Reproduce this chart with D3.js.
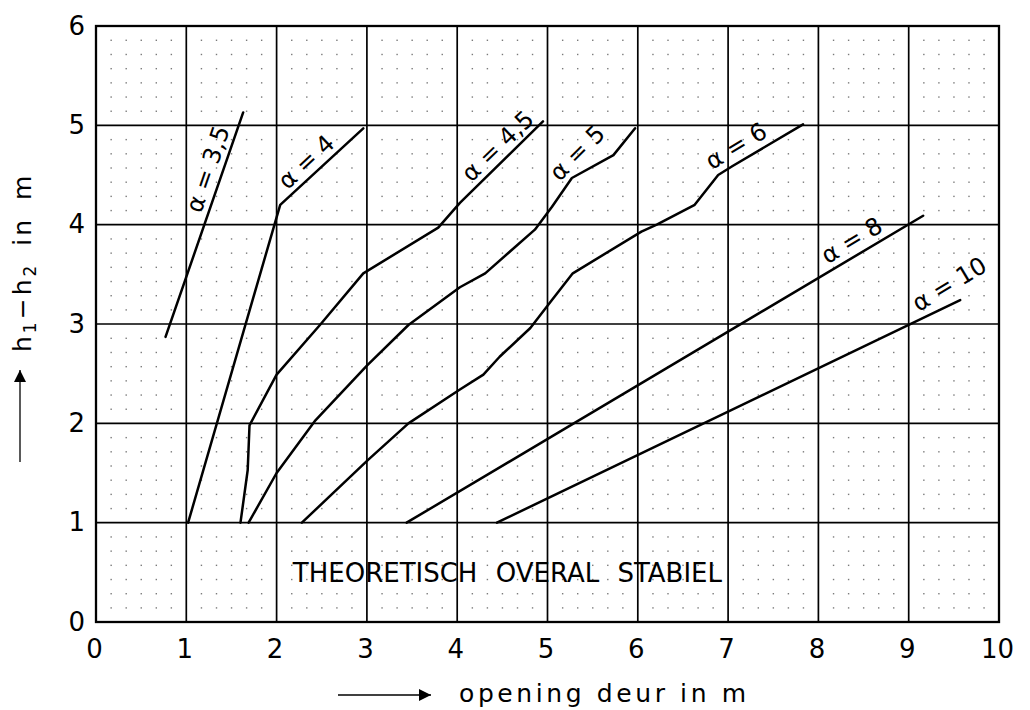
<!DOCTYPE html>
<html>
<head>
<meta charset="utf-8">
<script src="https://cdn.jsdelivr.net/npm/d3@7/dist/d3.min.js"></script>
<style>
  html, body { margin: 0; padding: 0; background: #fff; }
  svg { display: block; }
  text { font-family: "DejaVu Sans", "Liberation Sans", sans-serif; fill: #000; }
</style>
</head>
<body>
<svg id="chart" width="1030" height="710"></svg>
<script>
// Opening of the door (m) against head difference h1-h2 (m), one curve per alpha.
const xTicks = [0, 1, 2, 3, 4, 5, 6, 7, 8, 9, 10];
const yTicks = [0, 1, 2, 3, 4, 5, 6];

const alpha35 = [[0.77, 2.87], [1.63, 5.13]];
const alpha4  = [[1.02, 1.00], [2.04, 4.20], [2.96, 4.97]];
const alpha45 = [[1.60, 1.00], [1.68, 1.53], [1.70, 1.98], [2.00, 2.49], [2.48, 2.99],
                 [2.96, 3.51], [3.79, 3.97], [4.03, 4.22], [4.95, 5.04]];
const alpha5  = [[1.69, 1.00], [2.00, 1.50], [2.43, 2.03], [3.00, 2.58], [3.46, 2.99],
                 [4.03, 3.37], [4.31, 3.51], [4.86, 3.95], [5.05, 4.18], [5.27, 4.47],
                 [5.73, 4.70], [5.97, 4.97]];
const alpha6  = [[2.28, 1.00], [3.01, 1.63], [3.46, 2.00], [4.03, 2.34], [4.29, 2.49],
                 [4.47, 2.67], [4.81, 2.96], [5.03, 3.22], [5.28, 3.51], [6.04, 3.93],
                 [6.21, 4.00], [6.63, 4.20], [6.89, 4.50], [7.05, 4.59], [7.83, 5.01]];
const alpha8  = [[3.44, 1.00], [9.16, 4.09]];
const alpha10 = [[4.44, 1.00], [9.57, 3.24]];

const curveNames = ["α = 3,5", "α = 4", "α = 4,5", "α = 5", "α = 6", "α = 8", "α = 10"];
const curves = [alpha35, alpha4, alpha45, alpha5, alpha6, alpha8, alpha10];

// where each curve's name sits (data units) and how far it is turned (degrees)
const labelPlacement = [
  { x: 1.24, y: 4.56, angle: -71 },
  { x: 2.33, y: 4.63, angle: -43 },
  { x: 4.45, y: 4.79, angle: -44 },
  { x: 5.33, y: 4.72, angle: -45 },
  { x: 7.09, y: 4.79, angle: -31 },
  { x: 8.37, y: 3.84, angle: -31 },
  { x: 9.45, y: 3.40, angle: -31 }
];

const stableText = "THEORETISCH OVERAL STABIEL";
const xTitle = "opening deur in m";

const svg = d3.select("#chart");
const plotLeft = 96, plotRight = 999, plotTop = 26, plotBottom = 622;

const x = d3.scaleLinear().domain([0, 10]).range([plotLeft, plotRight]);
const y = d3.scaleLinear().domain([0, 6]).range([plotBottom, plotTop]);

// dotted background grid
const dots = [];
for (let i = 0; i <= 60; i++) {
  for (let j = 0; j <= 42; j++) {
    if (i % 6 === 0 || j % 7 === 0) continue;
    dots.push([i / 6, j / 7]);
  }
}
svg.append("g")
  .selectAll("rect")
  .data(dots)
  .join("rect")
  .attr("x", d => x(d[0]) - 0.6)
  .attr("y", d => y(d[1]) - 0.6)
  .attr("width", 1.4)
  .attr("height", 1.4)
  .attr("fill", "#7a7a7a");

// major grid
const grid = svg.append("g").attr("stroke", "#000").attr("stroke-width", 1.7);
grid.selectAll("line.v")
  .data(xTicks.slice(1, -1))
  .join("line")
  .attr("class", "v")
  .attr("x1", d => x(d)).attr("x2", d => x(d))
  .attr("y1", y(6)).attr("y2", y(0));
grid.selectAll("line.h")
  .data(yTicks.slice(1, -1))
  .join("line")
  .attr("class", "h")
  .attr("x1", x(0)).attr("x2", x(10))
  .attr("y1", d => y(d)).attr("y2", d => y(d));

svg.append("rect")
  .attr("x", x(0)).attr("y", y(6))
  .attr("width", x(10) - x(0)).attr("height", y(0) - y(6))
  .attr("fill", "none").attr("stroke", "#000").attr("stroke-width", 2.3);

// axes (labels only; the frame is the grid border)
const xAxis = svg.append("g")
  .attr("transform", `translate(0,${plotBottom})`)
  .call(d3.axisBottom(x).tickValues(xTicks).tickSize(0).tickPadding(18).tickFormat(d3.format("d")));
const yAxis = svg.append("g")
  .attr("transform", `translate(${plotLeft},0)`)
  .call(d3.axisLeft(y).tickValues(yTicks).tickSize(0).tickPadding(11).tickFormat(d3.format("d")));
[xAxis, yAxis].forEach(a => {
  a.select(".domain").remove();
  a.selectAll("text")
    .attr("font-family", "DejaVu Sans, sans-serif")
    .attr("font-size", 26)
    .attr("fill", "#000");
});
xAxis.selectAll("text").attr("dx", -2);

// alpha curves
const line = d3.line().x(d => x(d[0])).y(d => y(d[1]));
svg.append("g")
  .selectAll("path")
  .data(curves)
  .join("path")
  .attr("d", line)
  .attr("fill", "none")
  .attr("stroke", "#000")
  .attr("stroke-width", 2.5)
  .attr("stroke-linejoin", "round")
  .attr("stroke-linecap", "round");

svg.append("g")
  .selectAll("text")
  .data(curveNames)
  .join("text")
  .attr("transform", (d, i) => {
    const p = labelPlacement[i];
    return `translate(${x(p.x)},${y(p.y)}) rotate(${p.angle})`;
  })
  .attr("text-anchor", "middle")
  .attr("dominant-baseline", "central")
  .attr("font-size", 24)
  .text(d => d);

// region note
svg.append("text")
  .attr("x", x(2.18))
  .attr("y", y(0.4))
  .attr("font-size", 26)
  .attr("word-spacing", 10)
  .text(stableText);

// arrow heads
svg.append("defs").append("marker")
  .attr("id", "head")
  .attr("viewBox", "0 0 10 10")
  .attr("refX", 10).attr("refY", 5)
  .attr("markerWidth", 20).attr("markerHeight", 12)
  .attr("markerUnits", "userSpaceOnUse")
  .attr("orient", "auto")
  .append("path")
  .attr("d", "M0,0 L10,5 L0,10 Z")
  .attr("fill", "#000");

// x title
svg.append("line")
  .attr("x1", 338).attr("x2", 431)
  .attr("y1", 695).attr("y2", 695)
  .attr("stroke", "#000").attr("stroke-width", 1.3)
  .attr("marker-end", "url(#head)");
svg.append("text")
  .attr("x", 459).attr("y", 702)
  .attr("font-size", 25)
  .attr("textLength", 287)
  .attr("lengthAdjust", "spacing")
  .text(xTitle);

// y title
svg.append("line")
  .attr("x1", 20).attr("x2", 20)
  .attr("y1", 462).attr("y2", 370)
  .attr("stroke", "#000").attr("stroke-width", 1.3)
  .attr("marker-end", "url(#head)");
const yt = svg.append("text")
  .attr("transform", "translate(31,352) rotate(-90)")
  .attr("font-size", 25)
  .attr("letter-spacing", 3);
yt.append("tspan").text("h");
yt.append("tspan").attr("font-size", 17).attr("dy", 5).text("1");
yt.append("tspan").attr("dy", -5).text("−h");
yt.append("tspan").attr("font-size", 17).attr("dy", 5).text("2");
yt.append("tspan").attr("dy", -5).attr("word-spacing", 6).text(" in m");
</script>
</body>
</html>
